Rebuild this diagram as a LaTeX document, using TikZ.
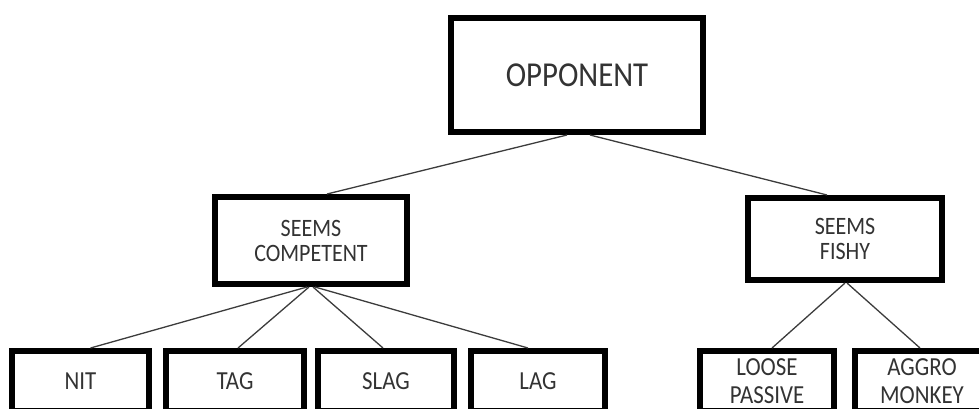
\documentclass[tikz,border=0pt]{standalone}
\usepackage{fontspec}
\setmainfont[FakeStretch=0.88]{Carlito}
\definecolor{txtgray}{HTML}{333333}
\definecolor{linkgray}{HTML}{3C3C3C}
\begin{document}
\begin{tikzpicture}[x=1pt,y=-1pt,
  box/.style={draw=black, line width=6pt, fill=white, align=center, text=txtgray, inner sep=0pt},
  topbox/.style={box, minimum width=252pt, minimum height=114pt, font=\fontsize{35}{40}\selectfont},
  midbox/.style={box, minimum height=87pt, font=\fontsize{25}{25}\selectfont},
  leafbox/.style={box, minimum height=60pt, font=\fontsize{26}{28}\selectfont},
  link/.style={draw=linkgray, line width=1.3pt}]
\useasboundingbox (0,0) rectangle (979,408);
\clip (0,0) rectangle (979,408);
% top
\node[topbox] (opp) at (577,75) {OPPONENT};
% middle
\node[midbox, minimum width=192pt] (sc) at (311,240.5) {SEEMS\\COMPETENT};
\node[midbox, minimum width=194pt, minimum height=82pt] (sf) at (845,239) {SEEMS\\FISHY};
% leaves
\node[leafbox, minimum width=137pt] (nit)  at (80.5,381) {NIT};
\node[leafbox, minimum width=138pt] (tag)  at (235,381) {TAG};
\node[leafbox, minimum width=136pt] (slag) at (386,381) {SLAG};
\node[leafbox, minimum width=134pt] (lag)  at (538,381) {LAG};
\node[leafbox, minimum width=134pt] (lp)   at (767,381) {LOOSE\\PASSIVE};
\node[leafbox, minimum width=134pt] (am)   at (922,381) {AGGRO\\MONKEY};
% connectors
\draw[link] ([xshift=-10pt]opp.south) -- ([xshift=16pt]sc.north);
\draw[link] ([xshift=13pt]opp.south) -- ([xshift=-18pt]sf.north);
\draw[link] ([xshift=-4pt]sc.south) -- ([xshift=10pt]nit.north);
\draw[link] ([xshift=-2pt]sc.south) -- ([xshift=3pt]tag.north);
\draw[link] ([xshift=2pt]sc.south) -- ([xshift=-3pt]slag.north);
\draw[link] ([xshift=4pt]sc.south) -- ([xshift=-10pt]lag.north);
\draw[link] ([xshift=0pt]sf.south) -- ([xshift=5pt]lp.north);
\draw[link] ([xshift=2pt]sf.south) -- ([xshift=-2pt]am.north);
\end{tikzpicture}
\end{document}
